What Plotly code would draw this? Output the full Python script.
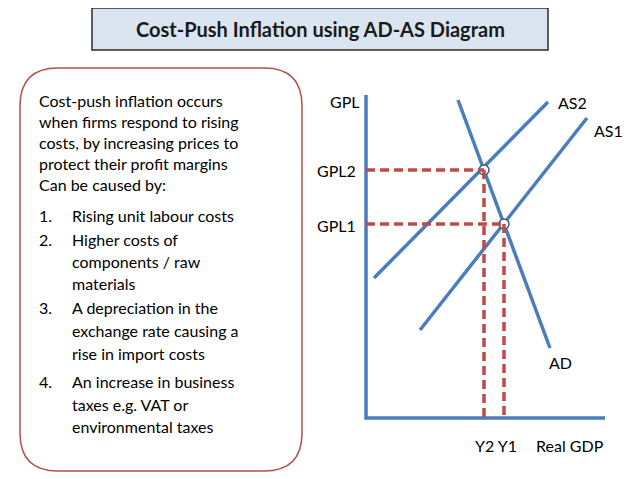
import plotly.graph_objects as go

# Diagram in pixel-like coords (x right, y down)
AS2_x = [374, 548]; AS2_y = [278, 102]
AS1_x = [420, 587]; AS1_y = [330, 118]
AD_x = [458, 550];  AD_y = [100, 348]
eq_x = [484, 504];  eq_y = [170, 224]
axis_origin = (366, 418)
body_lines = [
    (100, "", "Cost-push inflation occurs"),
    (121, "", "when firms respond to rising"),
    (142, "", "costs, by increasing prices to"),
    (163, "", "protect their profit margins"),
    (184, "", "Can be caused by:"),
    (215, "1.", "Rising unit labour costs"),
    (239, "2.", "Higher costs of"),
    (261, "", "components / raw"),
    (283, "", "materials"),
    (307, "3.", "A depreciation in the"),
    (330, "", "exchange rate causing a"),
    (353, "", "rise in import costs"),
    (381, "4.", "An increase in business"),
    (404, "", "taxes e.g. VAT or"),
    (426, "", "environmental taxes"),
]
labels = [("GPL", 345, 101), ("AS2", 572, 102), ("AS1", 608, 130), ("GPL2", 336, 170),
          ("GPL1", 336, 225), ("AD", 560, 362), ("Y2 Y1", 496, 445), ("Real GDP", 570, 445)]

FONT = "Lato"
blue = "#4a7ebb"; red = "#be4b48"
fig = go.Figure()
ox, oy = axis_origin
shapes = []
shapes.append(dict(type="rect", x0=92, x1=548, y0=8, y1=50, fillcolor="#dbe5f1",
                   line=dict(color="#2b2b2b", width=1.5), layer="below"))
x0, x1, y0, y1, r = 20, 302, 68, 471, 38
path = (f"M{x0+r},{y0} L{x1-r},{y0} Q{x1},{y0} {x1},{y0+r} L{x1},{y1-r} Q{x1},{y1} {x1-r},{y1} "
        f"L{x0+r},{y1} Q{x0},{y1} {x0},{y1-r} L{x0},{y0+r} Q{x0},{y0} {x0+r},{y0} Z")
shapes.append(dict(type="path", path=path, line=dict(color="#b5504c", width=1.5), fillcolor="white"))
for ex, ey in zip(eq_x, eq_y):
    shapes.append(dict(type="line", x0=ox, x1=ex, y0=ey, y1=ey, line=dict(color=red, width=3.5, dash="9px,5px")))
    shapes.append(dict(type="line", x0=ex, x1=ex, y0=ey, y1=oy, line=dict(color=red, width=3.5, dash="9px,5px")))
fig.add_trace(go.Scatter(x=[ox, ox, 605], y=[95, oy, oy], mode="lines", line=dict(color=blue, width=3.5), hoverinfo="skip"))
for xs, ys in [(AS2_x, AS2_y), (AS1_x, AS1_y), (AD_x, AD_y)]:
    fig.add_trace(go.Scatter(x=xs, y=ys, mode="lines", line=dict(color=blue, width=3.5), hoverinfo="skip"))
fig.add_trace(go.Scatter(x=eq_x, y=eq_y, mode="markers",
                         marker=dict(size=10, color="white", line=dict(color="#3c5a7e", width=1.5))))
ann = [dict(x=320, y=29, text="<b>Cost-Push Inflation using AD-AS Diagram</b>", showarrow=False,
            font=dict(size=20, color="#1a1a1a", family=FONT))]
for y, num, txt in body_lines:
    if num:
        ann.append(dict(x=37, y=y, text=num, xanchor="left", showarrow=False, font=dict(size=16, color="black", family=FONT)))
    ann.append(dict(x=70 if (num or y > 200) else 37, y=y, text=txt, xanchor="left", showarrow=False,
                    font=dict(size=16, color="black", family=FONT)))
for t, x, y in labels:
    ann.append(dict(x=x, y=y, text=t, showarrow=False, font=dict(size=16, color="black", family=FONT)))
fig.update_layout(width=638, height=479, margin=dict(l=0, r=0, t=0, b=0), showlegend=False,
                  plot_bgcolor="white", paper_bgcolor="white", shapes=shapes, annotations=ann,
                  xaxis=dict(range=[8, 646], visible=False, fixedrange=True),
                  yaxis=dict(range=[487, 8], visible=False, fixedrange=True))
fig.write_html("out.html")
